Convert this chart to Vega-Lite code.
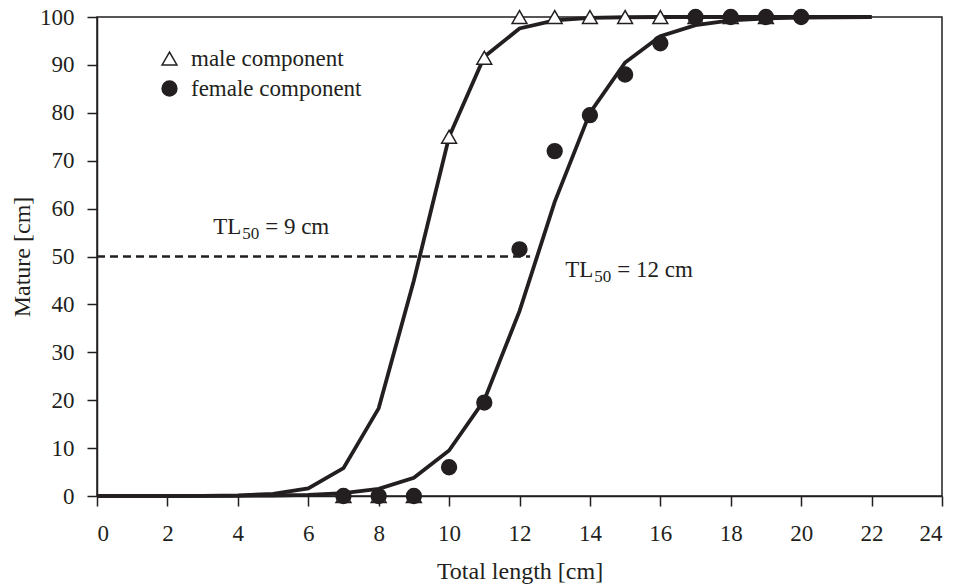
{
  "$schema": "https://vega.github.io/schema/vega-lite/v6.json",
  "width": 845,
  "height": 479,
  "autosize": "none",
  "padding": {"left": 97, "top": 17, "right": 15, "bottom": 89},
  "background": "white",
  "config": {
    "view": {"stroke": "#231f20", "strokeWidth": 1.5},
    "font": "Liberation Serif",
    "axis": {
      "grid": false,
      "domainColor": "#231f20",
      "domainWidth": 1.5,
      "tickColor": "#231f20",
      "tickWidth": 1.5,
      "tickSize": 10,
      "labelFont": "Liberation Serif",
      "labelFontSize": 23,
      "labelColor": "#231f20",
      "titleFont": "Liberation Serif",
      "titleFontSize": 24,
      "titleFontWeight": "normal",
      "titleColor": "#231f20"
    },
    "legend": {
      "title": null,
      "padding": 0,
      "labelFont": "Liberation Serif",
      "labelFontSize": 23,
      "labelColor": "#231f20",
      "labelLimit": 0,
      "labelOffset": 10,
      "rowPadding": 6,
      "symbolSize": 220,
      "symbolStrokeColor": "#231f20",
      "symbolStrokeWidth": 1.5
    }
  },
  "datasets": {
    "curves": [
      {"length": 0, "mature": 0, "series": "male"},
      {"length": 1, "mature": 0, "series": "male"},
      {"length": 2, "mature": 0, "series": "male"},
      {"length": 3, "mature": 0.03, "series": "male"},
      {"length": 4, "mature": 0.12, "series": "male"},
      {"length": 5, "mature": 0.45, "series": "male"},
      {"length": 6, "mature": 1.6, "series": "male"},
      {"length": 7, "mature": 5.8, "series": "male"},
      {"length": 8, "mature": 18.3, "series": "male"},
      {"length": 9, "mature": 45, "series": "male"},
      {"length": 10, "mature": 75, "series": "male"},
      {"length": 11, "mature": 91.7, "series": "male"},
      {"length": 12, "mature": 97.6, "series": "male"},
      {"length": 13, "mature": 99.3, "series": "male"},
      {"length": 14, "mature": 99.8, "series": "male"},
      {"length": 15, "mature": 99.95, "series": "male"},
      {"length": 16, "mature": 100, "series": "male"},
      {"length": 17, "mature": 100, "series": "male"},
      {"length": 18, "mature": 100, "series": "male"},
      {"length": 19, "mature": 100, "series": "male"},
      {"length": 20, "mature": 100, "series": "male"},
      {"length": 21, "mature": 100, "series": "male"},
      {"length": 22, "mature": 100, "series": "male"},
      {"length": 0, "mature": 0, "series": "female"},
      {"length": 1, "mature": 0, "series": "female"},
      {"length": 2, "mature": 0, "series": "female"},
      {"length": 3, "mature": 0.02, "series": "female"},
      {"length": 4, "mature": 0.04, "series": "female"},
      {"length": 5, "mature": 0.1, "series": "female"},
      {"length": 6, "mature": 0.25, "series": "female"},
      {"length": 7, "mature": 0.6, "series": "female"},
      {"length": 8, "mature": 1.5, "series": "female"},
      {"length": 9, "mature": 3.8, "series": "female"},
      {"length": 10, "mature": 9.5, "series": "female"},
      {"length": 11, "mature": 20, "series": "female"},
      {"length": 12, "mature": 38.6, "series": "female"},
      {"length": 13, "mature": 61.4, "series": "female"},
      {"length": 14, "mature": 80, "series": "female"},
      {"length": 15, "mature": 90.5, "series": "female"},
      {"length": 16, "mature": 96, "series": "female"},
      {"length": 17, "mature": 98.3, "series": "female"},
      {"length": 18, "mature": 99.3, "series": "female"},
      {"length": 19, "mature": 99.7, "series": "female"},
      {"length": 20, "mature": 99.9, "series": "female"},
      {"length": 21, "mature": 99.95, "series": "female"},
      {"length": 22, "mature": 100, "series": "female"}
    ],
    "points": [
      {"length": 7, "mature": 0, "component": "male component"},
      {"length": 8, "mature": 0, "component": "male component"},
      {"length": 9, "mature": 0, "component": "male component"},
      {"length": 10, "mature": 75, "component": "male component"},
      {"length": 11, "mature": 91.5, "component": "male component"},
      {"length": 12, "mature": 100, "component": "male component"},
      {"length": 13, "mature": 100, "component": "male component"},
      {"length": 14, "mature": 100, "component": "male component"},
      {"length": 15, "mature": 100, "component": "male component"},
      {"length": 16, "mature": 100, "component": "male component"},
      {"length": 17, "mature": 100, "component": "male component"},
      {"length": 18, "mature": 100, "component": "male component"},
      {"length": 19, "mature": 100, "component": "male component"},
      {"length": 7, "mature": 0, "component": "female component"},
      {"length": 8, "mature": 0, "component": "female component"},
      {"length": 9, "mature": 0, "component": "female component"},
      {"length": 10, "mature": 6, "component": "female component"},
      {"length": 11, "mature": 19.5, "component": "female component"},
      {"length": 12, "mature": 51.5, "component": "female component"},
      {"length": 13, "mature": 72, "component": "female component"},
      {"length": 14, "mature": 79.5, "component": "female component"},
      {"length": 15, "mature": 88, "component": "female component"},
      {"length": 16, "mature": 94.5, "component": "female component"},
      {"length": 17, "mature": 100, "component": "female component"},
      {"length": 18, "mature": 100, "component": "female component"},
      {"length": 19, "mature": 100, "component": "female component"},
      {"length": 20, "mature": 100, "component": "female component"}
    ],
    "dash": [
      {"length": 0, "mature": 50},
      {"length": 12.3, "mature": 50}
    ],
    "notes": [
      {"length": 3.3, "mature": 54.7, "main": "TL", "sub": "50", "rest": "= 9 cm"},
      {"length": 13.3, "mature": 45.8, "main": "TL", "sub": "50", "rest": "= 12 cm"}
    ]
  },
  "layer": [
    {
      "data": {"name": "dash"},
      "mark": {"type": "line", "color": "#231f20", "strokeWidth": 2.5, "strokeDash": [8, 5]},
      "encoding": {
        "x": {
          "field": "length", "type": "quantitative",
          "scale": {"domain": [0, 24], "nice": false, "zero": true},
          "axis": {
            "values": [0, 2, 4, 6, 8, 10, 12, 14, 16, 18, 20, 22, 24],
            "title": "Total length [cm]",
            "labelPadding": 16,
            "titleBaseline": "alphabetic",
            "titleY": 82
          }
        },
        "y": {
          "field": "mature", "type": "quantitative",
          "scale": {"domain": [0, 100], "nice": false},
          "axis": {
            "values": [0, 10, 20, 30, 40, 50, 60, 70, 80, 90, 100],
            "title": "Mature [cm]",
            "labelPadding": 13,
            "titleBaseline": "alphabetic",
            "titleX": -68
          }
        }
      }
    },
    {
      "data": {"name": "curves"},
      "mark": {"type": "line", "color": "#231f20", "strokeWidth": 3.8, "strokeJoin": "miter"},
      "encoding": {
        "x": {"field": "length", "type": "quantitative"},
        "y": {"field": "mature", "type": "quantitative"},
        "detail": {"field": "series"}
      }
    },
    {
      "data": {"name": "points"},
      "mark": {"type": "point", "strokeWidth": 1.5, "opacity": 1, "fillOpacity": 1, "strokeOpacity": 1},
      "encoding": {
        "x": {"field": "length", "type": "quantitative"},
        "y": {"field": "mature", "type": "quantitative"},
        "shape": {
          "field": "component", "type": "nominal",
          "scale": {"domain": ["male component", "female component"], "range": ["triangle-up", "circle"]},
          "legend": {"orient": "none", "legendX": 61, "legendY": 30}
        },
        "fill": {
          "field": "component", "type": "nominal",
          "scale": {"domain": ["male component", "female component"], "range": ["white", "#231f20"]},
          "legend": {"orient": "none", "legendX": 61, "legendY": 30}
        },
        "stroke": {
          "field": "component", "type": "nominal",
          "scale": {"domain": ["male component", "female component"], "range": ["#231f20", "#231f20"]},
          "legend": {"orient": "none", "legendX": 61, "legendY": 30}
        },
        "size": {"value": 220}
      }
    },
    {
      "data": {"name": "notes"},
      "mark": {"type": "text", "align": "left", "baseline": "alphabetic", "font": "Liberation Serif", "fontSize": 23, "color": "#231f20"},
      "encoding": {
        "x": {"field": "length", "type": "quantitative"},
        "y": {"field": "mature", "type": "quantitative"},
        "text": {"field": "main"}
      }
    },
    {
      "data": {"name": "notes"},
      "mark": {"type": "text", "align": "left", "baseline": "alphabetic", "font": "Liberation Serif", "fontSize": 17, "color": "#231f20", "dx": 29, "dy": 5},
      "encoding": {
        "x": {"field": "length", "type": "quantitative"},
        "y": {"field": "mature", "type": "quantitative"},
        "text": {"field": "sub"}
      }
    },
    {
      "data": {"name": "notes"},
      "mark": {"type": "text", "align": "left", "baseline": "alphabetic", "font": "Liberation Serif", "fontSize": 23, "color": "#231f20", "dx": 52},
      "encoding": {
        "x": {"field": "length", "type": "quantitative"},
        "y": {"field": "mature", "type": "quantitative"},
        "text": {"field": "rest"}
      }
    }
  ]
}
